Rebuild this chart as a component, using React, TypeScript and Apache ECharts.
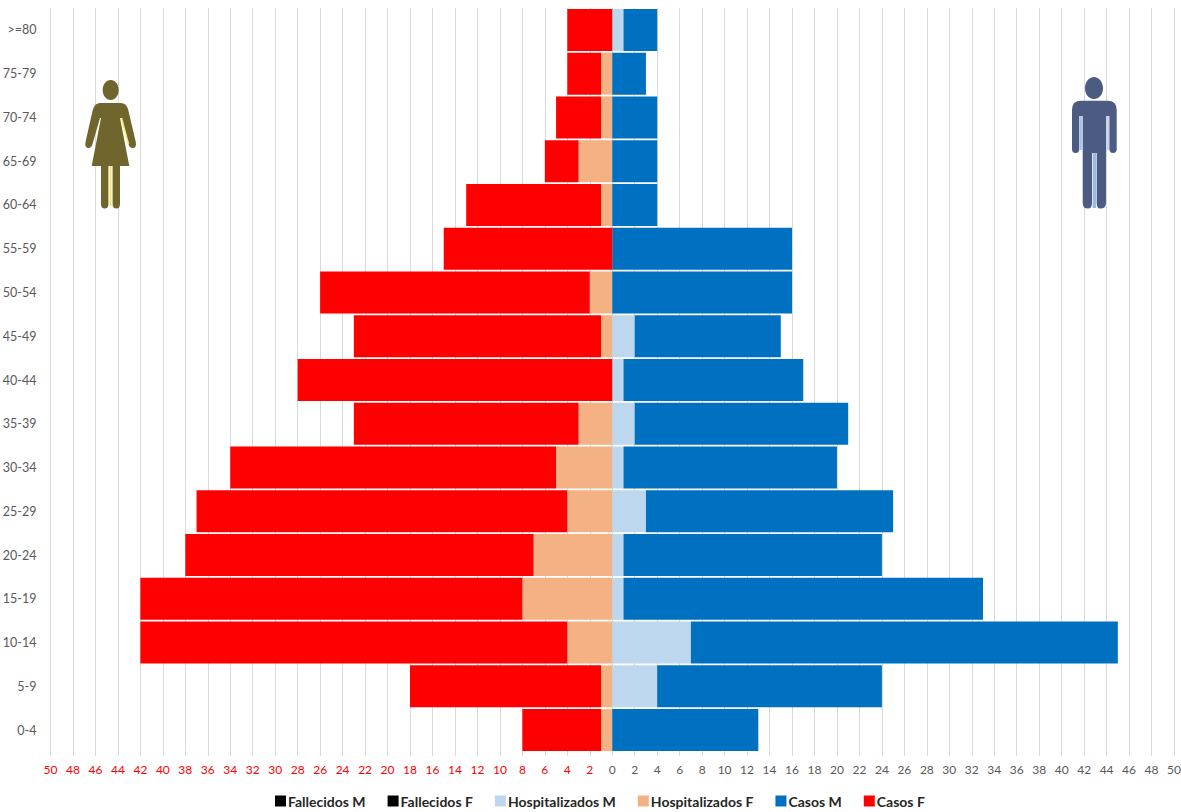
import React, { useEffect, useRef } from "react";
import * as echarts from "echarts";

const ageGroups = ["0-4","5-9","10-14","15-19","20-24","25-29","30-34","35-39","40-44","45-49","50-54","55-59","60-64","65-69","70-74","75-79",">=80"];
const fallecidosM = [0,0,0,0,0,0,0,0,0,0,0,0,0,0,0,0,0];
const fallecidosF = [0,0,0,0,0,0,0,0,0,0,0,0,0,0,0,0,0];
const hospitalizadosM = [0,4,7,1,1,3,1,2,1,2,0,0,0,0,0,0,1];
const hospitalizadosF = [1,1,4,8,7,4,5,3,0,1,2,0,1,3,1,1,0];
const casosM = [13,20,38,32,23,22,19,19,16,13,16,16,4,4,4,3,3];
const casosF = [7,17,38,34,31,33,29,20,28,22,24,15,12,3,4,3,4];

const FEMALE = "M110.7 80C115.3 80 118.7 84.5 118.7 90C118.7 95.5 115.3 100 110.7 100C106.1 100 102.7 95.5 102.7 90C102.7 84.5 106.1 80 110.7 80Z M100 103L121 103Q126 103 128 109L135.8 142Q136.8 148 132.5 148Q129.5 148 128.5 144L121.5 118L120 118L129.3 166L120 166L120 204Q120 208.5 116.3 208.5Q112.6 208.5 112.6 204L112.6 166L108.4 166L108.4 204Q108.4 208.5 104.7 208.5Q101 208.5 101 204L101 166L91.7 166L101 118L100 118L92.5 144Q91.5 148 88.5 148Q84.5 148 85.5 142L93 109Q95 103 100 103Z";
const MALE = "M1094 77C1099 77 1103 82 1103 88.3C1103 94.6 1099 99 1094 99C1089 99 1085 94.6 1085 88.3C1085 82 1089 77 1094 77Z M1081 100.7L1107.5 100.7Q1116.7 100.7 1116.7 110L1116.7 149Q1116.7 153 1113 153Q1109.4 153 1109.4 149L1109.4 116L1106 116L1106 203Q1106 208.5 1100.5 208.5L1100 208.5Q1096.7 208.5 1096.7 203L1096.7 153L1092 153L1092 203Q1092 208.5 1088 208.5Q1082.7 208.5 1082.7 203L1082.7 116L1079.3 116L1079.3 149Q1079.3 153 1075.7 153Q1072 153 1072 149L1072 110Q1072 100.7 1081 100.7Z";
echarts.graphic.registerShape("femaleIcon", echarts.graphic.extendPath(FEMALE, {}));
echarts.graphic.registerShape("maleIcon", echarts.graphic.extendPath(MALE, {}));

const FONT = "Lato";
const negate = (a: number[]) => a.map((v) => (v === 0 ? 0 : -v));

function bar(name: string, data: number[], color: string) {
  return { name, type: "bar", stack: "total", data, barCategoryGap: "4%", itemStyle: { color } };
}

export default function App() {
  const ref = useRef<HTMLDivElement>(null);
  useEffect(() => {
    document.body.style.margin = "0";
    const chart = echarts.init(ref.current!, null, { renderer: "svg" });
    chart.setOption({
      animation: false,
      backgroundColor: "#ffffff",
      textStyle: { fontFamily: FONT },
      grid: { left: 50.5, right: 7, top: 8, bottom: 60, containLabel: false, outerBoundsMode: "none" },
      xAxis: {
        type: "value",
        min: -50,
        max: 50,
        interval: 2,
        axisLine: { show: false },
        axisTick: { show: true, length: 4, lineStyle: { color: "#d9d9d9" } },
        splitLine: { show: true, lineStyle: { color: "#d9d9d9", width: 1 } },
        axisLabel: {
          show: true,
          fontSize: 12,
          fontFamily: FONT,
          margin: 11,
          showMinLabel: true,
          showMaxLabel: true,
          hideOverlap: false,
          formatter: (v: number) => String(Math.abs(v)),
          color: (v: string) => (Number(v) < 0 ? "#ff0000" : "#595959"),
        },
      },
      yAxis: {
        type: "category",
        data: ageGroups,
        axisLine: { show: false, onZero: false },
        axisTick: { show: false },
        axisLabel: { fontSize: 12.5, fontFamily: FONT, color: "#595959", margin: 14, padding: [0, 0, 2, 0], interval: 0 },
      },
      legend: {
        left: 275,
        top: 794,
        padding: 0,
        itemWidth: 11,
        itemHeight: 11,
        itemGap: 22,
        icon: "rect",
        selectedMode: false,
        textStyle: { fontFamily: FONT, fontSize: 14, fontWeight: "bold", color: "#262626", padding: [0, 0, 0, -3] },
        data: ["Fallecidos M", "Fallecidos F", "Hospitalizados M", "Hospitalizados F", "Casos M", "Casos F"],
      },
      series: [
        bar("Fallecidos M", fallecidosM, "#000000"),
        bar("Fallecidos F", negate(fallecidosF), "#000000"),
        bar("Hospitalizados M", hospitalizadosM, "#bdd7ee"),
        bar("Hospitalizados F", negate(hospitalizadosF), "#f4b183"),
        bar("Casos M", casosM, "#0070c0"),
        bar("Casos F", negate(casosF), "#ff0000"),
      ],
      graphic: [
        { type: "femaleIcon", x: 0, y: 0, z: 10, style: { fill: "#6f652d", stroke: null } },
        { type: "line", z: 11, shape: { x1: 121.5, y1: 118, x2: 128.5, y2: 144 }, style: { stroke: "#f2e96a", lineWidth: 1.5 } },
        { type: "line", z: 11, shape: { x1: 110.5, y1: 166, x2: 110.5, y2: 206 }, style: { stroke: "#f2e96a", lineWidth: 2 } },
        { type: "maleIcon", x: 0, y: 0, z: 10, style: { fill: "#4b5b82", stroke: null } },
        { type: "line", z: 11, shape: { x1: 1081, y1: 116, x2: 1081, y2: 150 }, style: { stroke: "#a9c3ef", lineWidth: 2.5 } },
        { type: "line", z: 11, shape: { x1: 1107.7, y1: 116, x2: 1107.7, y2: 150 }, style: { stroke: "#c3d4f0", lineWidth: 2.5 } },
        { type: "line", z: 11, shape: { x1: 1094.4, y1: 153, x2: 1094.4, y2: 208 }, style: { stroke: "#9db8ea", lineWidth: 3.5 } },
      ],
    });
    return () => chart.dispose();
  }, []);
  return <div ref={ref} style={{ position: "absolute", left: 0, top: 0, width: 1181, height: 812 }} />;
}
